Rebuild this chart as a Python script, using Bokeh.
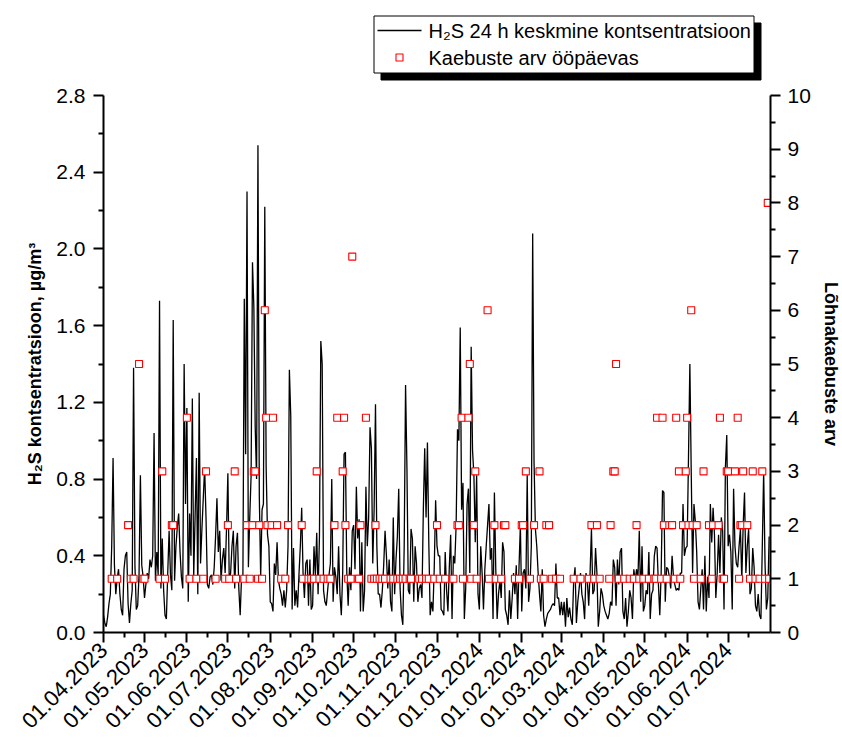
import math
import pandas as pd
from bokeh.plotting import figure
from bokeh.layouts import column
from bokeh.core.properties import value
from bokeh.models import (Range1d, LinearAxis, FixedTicker, DatetimeTickFormatter,
                          PrintfTickFormatter)
from bokeh.embed import file_html
from bokeh.resources import INLINE

# ---------------- data ----------------
start_date = "2023-04-01"
end_date = "2024-08-01"

# daily 24 h mean H2S concentration (µg/m3), starting 01.04.2023
h2s = [
    0.09, 0.05, 0.03, 0.08, 0.15, 0.20, 0.45, 0.91, 0.35, 0.20,
    0.28, 0.33, 0.20, 0.12, 0.09, 0.33, 0.40, 0.42, 0.15, 0.05,
    0.15, 0.22, 1.38, 0.35, 0.12, 0.14, 0.30, 0.82, 0.35, 0.29,
    0.18, 0.25, 0.31, 0.28, 0.38, 0.34, 0.40, 1.04, 0.27, 0.42,
    0.30, 1.73, 0.23, 0.49, 0.22, 0.09, 0.07, 0.31, 0.53, 0.30,
    0.22, 1.63, 0.27, 0.45, 0.55, 0.62, 0.42, 0.29, 0.23, 1.40,
    0.67, 1.17, 0.16, 0.62, 0.40, 1.22, 0.29, 0.60, 0.91, 0.20,
    1.25, 0.36, 0.54, 0.70, 0.86, 0.60, 0.25, 0.23, 0.29, 0.30,
    0.25, 0.34, 0.50, 0.70, 0.42, 0.53, 0.27, 0.38, 0.44, 0.31,
    0.54, 0.83, 0.27, 0.31, 0.45, 0.53, 0.23, 0.45, 0.52, 0.23,
    0.09, 0.29, 0.30, 1.74, 0.93, 2.30, 0.34, 0.60, 0.82, 1.93,
    1.70, 1.07, 0.80, 2.54, 0.71, 0.29, 0.64, 0.67, 2.22, 0.86,
    0.51, 0.45, 0.16, 0.15, 0.11, 0.36, 0.30, 0.47, 0.27, 0.23,
    0.20, 0.14, 0.22, 0.13, 0.22, 0.45, 1.37, 1.13, 0.12, 0.44,
    0.14, 0.22, 0.13, 0.30, 0.45, 0.65, 0.31, 0.18, 0.36, 0.38,
    0.14, 0.38, 0.12, 0.14, 0.45, 0.30, 0.52, 0.20, 0.50, 1.52,
    1.40, 0.22, 0.16, 0.14, 0.22, 0.30, 0.36, 0.80, 0.16, 0.34,
    0.29, 0.20, 0.45, 0.20, 0.09, 0.31, 0.93, 0.94, 0.31, 0.14,
    0.34, 0.22, 0.53, 0.56, 0.33, 0.76, 0.49, 0.59, 0.11, 0.47,
    0.11, 0.22, 0.76, 0.45, 0.60, 1.07, 0.96, 0.36, 0.64, 1.19,
    0.45, 0.20, 0.20, 0.13, 0.22, 0.35, 0.53, 0.40, 0.23, 0.38,
    0.16, 0.11, 0.60, 0.20, 0.38, 0.50, 0.75, 0.23, 0.09, 0.04,
    0.45, 1.29, 0.86, 0.22, 0.20, 0.54, 0.49, 0.16, 0.45, 0.36,
    0.16, 0.23, 0.25, 0.18, 0.64, 0.96, 0.60, 0.99, 0.47, 0.09,
    0.16, 0.11, 0.34, 0.69, 0.45, 0.40, 0.40, 0.12, 0.11, 0.09,
    0.42, 0.22, 0.11, 0.34, 0.51, 0.07, 0.40, 0.36, 0.56, 1.06,
    1.00, 1.59, 0.64, 0.78, 0.07, 0.23, 0.67, 0.75, 0.31, 1.49,
    0.95, 0.82, 0.47, 0.82, 0.20, 0.12, 0.45, 0.31, 0.12, 0.33,
    0.45, 0.56, 0.67, 0.38, 0.44, 0.07, 0.73, 0.33, 0.07, 0.20,
    0.27, 0.18, 0.47, 0.42, 0.12, 0.09, 0.04, 0.22, 0.07, 0.18,
    0.31, 0.20, 0.35, 0.07, 0.34, 0.56, 0.11, 0.31, 0.33, 0.23,
    0.82, 0.16, 0.23, 0.45, 2.08, 0.89, 0.54, 0.45, 0.31, 0.20,
    0.11, 0.33, 0.09, 0.03, 0.07, 0.10, 0.11, 0.12, 0.14, 0.15,
    0.14, 0.36, 0.18, 0.18, 0.09, 0.16, 0.09, 0.16, 0.03, 0.18,
    0.08, 0.13, 0.07, 0.04, 0.27, 0.34, 0.05, 0.16, 0.23, 0.31,
    0.20, 0.16, 0.07, 0.31, 0.27, 0.14, 0.31, 0.54, 0.20, 0.22,
    0.44, 0.31, 0.03, 0.11, 0.23, 0.20, 0.14, 0.11, 0.09, 0.07,
    0.10, 0.16, 0.14, 0.38, 0.34, 0.14, 0.38, 0.25, 0.42, 0.44,
    0.11, 0.07, 0.18, 0.03, 0.11, 0.22, 0.18, 0.07, 0.33, 0.27,
    0.33, 0.28, 0.53, 0.16, 0.45, 0.11, 0.14, 0.22, 0.20, 0.42,
    0.07, 0.20, 0.22, 0.40, 0.45, 0.44, 0.25, 0.09, 0.31, 0.74,
    0.73, 0.16, 0.34, 0.33, 0.29, 0.23, 0.40, 0.29, 0.25, 0.22,
    0.23, 0.22, 0.31, 0.31, 0.67, 0.40, 0.44, 0.45, 0.91, 1.40,
    0.84, 0.31, 0.67, 0.58, 0.42, 0.16, 0.12, 0.23, 0.33, 0.12,
    0.40, 0.11, 0.29, 0.18, 0.67, 0.47, 0.65, 0.51, 0.18, 0.31,
    0.51, 0.31, 0.60, 0.53, 0.12, 0.86, 1.03, 0.45, 0.51, 0.42,
    0.12, 0.75, 0.45, 0.36, 0.34, 0.45, 0.54, 0.27, 0.56, 0.73,
    0.31, 0.45, 0.54, 0.20, 0.23, 0.44, 0.34, 0.14, 0.11, 0.20,
    0.09, 0.07, 0.45, 0.84, 0.36, 0.12, 0.18, 0.50,
]

# complaints per day: day number counted from 01.04.2023, and count
complaint_day = [
    6, 10, 18, 20, 22, 26, 29, 30, 41, 43, 45, 50, 51, 61, 63, 68,
    73, 75, 82, 89, 91, 92, 96, 97, 103, 105, 107, 109, 110, 111, 113, 114,
    116, 118, 119, 120, 123, 124, 127, 130, 133, 135, 145, 146, 150,
    152, 154, 156, 158, 161, 164, 166, 169, 171, 175, 176, 177, 179, 181, 182,
    186, 187, 188, 192, 196, 198, 199, 200, 202, 204, 206, 210, 212, 215, 217,
    219, 221, 224, 225, 231, 233,
    236, 238, 242, 244, 246, 250, 256, 259, 260, 262, 263, 267, 268, 269, 271,
    272, 273, 281, 282, 286, 287, 291, 293, 294, 301, 304, 306, 307, 309, 312, 315,
    319, 320, 322, 324, 326, 328, 331, 334, 344, 349, 355, 357, 359, 361, 363,
    370, 371, 373, 374, 375, 377, 381, 385, 388, 390, 392, 395, 399,
    403, 404, 405, 408, 409, 410, 412, 414, 416, 418, 419, 421, 422, 424, 426,
    427, 428, 430, 431, 432, 434, 437, 439, 443, 445, 446, 450, 451, 453, 454,
    456, 457, 462, 464, 465, 466, 467, 468, 471, 473, 475, 477, 480, 482, 484,
    486, 487,
]
complaint_count = [
    1, 1, 2, 1, 1, 5, 1, 1, 1, 3, 1, 2, 2, 4, 1, 1,
    1, 3, 1, 1, 2, 1, 3, 1, 1, 2, 1, 2, 3, 3, 1, 2,
    1, 6, 4, 2, 2, 4, 2, 1, 1, 2, 2, 1, 1,
    1, 1, 3, 1, 1, 1, 1, 2, 4, 3, 4, 2, 1, 1, 7,
    1, 1, 2, 4, 1, 1, 2, 1, 1, 1, 1, 1, 1, 1, 1,
    1, 1, 1, 1, 1, 1,
    1, 1, 1, 2, 1, 1, 1, 2, 2, 4, 1, 4, 5, 1, 2,
    3, 1, 6, 1, 2, 1, 1, 2, 2, 1, 1, 2, 2, 3, 1, 2,
    3, 1, 1, 2, 2, 1, 1, 1, 1, 1, 1, 2, 1, 2, 1,
    1, 2, 3, 3, 5, 1, 1, 1, 1, 2, 1, 1, 1,
    1, 1, 4, 1, 4, 2, 1, 2, 2, 1, 4, 3, 1, 2, 3,
    4, 2, 6, 2, 1, 2, 1, 3, 2, 1, 2, 2, 4, 1, 1,
    3, 3, 3, 4, 1, 2, 2, 3, 2, 1, 3, 1, 1, 3, 1,
    8, 1,
]

month_ticks = [
    "2023-04-01", "2023-05-01", "2023-06-01", "2023-07-01", "2023-08-01",
    "2023-09-01", "2023-10-01", "2023-11-01", "2023-12-01", "2024-01-01",
    "2024-02-01", "2024-03-01", "2024-04-01", "2024-05-01", "2024-06-01",
    "2024-07-01",
]
left_ticks = [0.0, 0.4, 0.8, 1.2, 1.6, 2.0, 2.4, 2.8]
left_minor = [0.2, 0.6, 1.0, 1.4, 1.8, 2.2, 2.6]
right_ticks = [0, 1, 2, 3, 4, 5, 6, 7, 8, 9, 10]
right_minor = [0.5, 1.5, 2.5, 3.5, 4.5, 5.5, 6.5, 7.5, 8.5, 9.5]

legend_labels = ["H\u2082S 24 h keskmine kontsentratsioon", "Kaebuste arv ööpäevas"]
left_title = "H\u2082S kontsentratsioon, µg/m\u00b3"
right_title = "Lõhnakaebuste arv"

assert len(complaint_day) == len(complaint_count)

FONT = "Liberation Sans"
LINE_W = 1.3
SQ_SIZE = 7
BORDER_L, FRAME_W, BORDER_R = 103, 667, 72
LEG_H = 82

# ---------------- main figure ----------------
dates = pd.date_range(start_date, periods=len(h2s), freq="D")
c_dates = dates[complaint_day]


def ms(s):
    return pd.Timestamp(s).value // 10**6


major_ms = [ms(s) for s in month_ticks]
minor_ms = [ms(pd.Timestamp(s) + pd.Timedelta(days=15)) for s in month_ticks]

p = figure(frame_width=FRAME_W, frame_height=537,
           x_axis_type="datetime",
           x_range=Range1d(pd.Timestamp(start_date), pd.Timestamp(end_date)),
           y_range=Range1d(0, 2.8),
           output_backend="svg", toolbar_location=None,
           min_border_left=BORDER_L, min_border_right=BORDER_R,
           min_border_top=95 - LEG_H, min_border_bottom=108,
           background_fill_color="white", border_fill_color="white")
p.outline_line_color = None
p.xgrid.visible = False
p.ygrid.visible = False

p.extra_y_ranges = {"cnt": Range1d(0, 10)}
right_axis = LinearAxis(y_range_name="cnt", axis_label=right_title)
p.add_layout(right_axis, "right")

p.line(dates, h2s, line_color="black", line_width=LINE_W)
p.scatter(c_dates, complaint_count, marker="square", size=SQ_SIZE,
          line_color="red", fill_color="white", line_width=1.1,
          y_range_name="cnt")

for ax in [p.xaxis[0], p.yaxis[0], right_axis]:
    ax.axis_line_width = 2
    ax.axis_line_color = "black"
    ax.major_tick_line_width = 2
    ax.minor_tick_line_width = 2
    ax.major_tick_line_color = "black"
    ax.minor_tick_line_color = "black"
    ax.major_tick_in = 0
    ax.major_tick_out = 10
    ax.minor_tick_in = 0
    ax.minor_tick_out = 5
    ax.major_label_text_font = FONT
    ax.major_label_text_font_size = "21px"
    ax.major_label_text_color = "black"
    ax.major_label_standoff = 8
    ax.axis_label_text_font = FONT
    ax.axis_label_text_font_size = "18px"
    ax.axis_label_text_font_style = "bold"
    ax.axis_label_text_color = "black"

xa = p.xaxis[0]
xa.ticker = FixedTicker(ticks=major_ms, minor_ticks=minor_ms)
xa.formatter = DatetimeTickFormatter(days="%d.%m.%Y", months="%d.%m.%Y",
                                     years="%d.%m.%Y")
xa.major_label_orientation = math.pi / 4
xa.major_label_text_font_size = "22px"
xa.major_label_standoff = 4

ya = p.yaxis[0]
ya.ticker = FixedTicker(ticks=left_ticks, minor_ticks=left_minor)
ya.formatter = PrintfTickFormatter(format="%.1f")
ya.axis_label = left_title
ya.axis_label_standoff = 8

right_axis.ticker = FixedTicker(ticks=right_ticks, minor_ticks=right_minor)
right_axis.major_label_standoff = 7
right_axis.axis_label_standoff = 7

# ---------------- legend strip above the plot ----------------
# its frame is aligned with the main frame; ranges are in page pixels
lf = figure(frame_width=FRAME_W, frame_height=LEG_H,
            x_range=Range1d(BORDER_L, BORDER_L + FRAME_W), y_range=Range1d(LEG_H, 0),
            x_axis_location=None, y_axis_location=None,
            output_backend="svg", toolbar_location=None,
            min_border_left=BORDER_L, min_border_right=BORDER_R,
            min_border_top=0, min_border_bottom=0,
            background_fill_color="white", border_fill_color="white")
lf.outline_line_color = None
lf.xgrid.visible = False
lf.ygrid.visible = False

BOX_L, BOX_R, BOX_T, BOX_B = 373.5, 753.5, 15.5, 72.5
SHADOW = 7
lf.quad(left=[BOX_L + SHADOW], right=[BOX_R + SHADOW], top=[BOX_T + SHADOW],
        bottom=[BOX_B + SHADOW], fill_color="black", line_color="black")
lf.quad(left=[BOX_L], right=[BOX_R], top=[BOX_T], bottom=[BOX_B],
        fill_color="white", line_color="black", line_width=1)
ROW1, ROW2 = 30, 57
lf.segment(x0=[377], y0=[ROW1], x1=[421], y1=[ROW1], line_color="black",
           line_width=LINE_W)
lf.scatter(x=[399], y=[ROW2], marker="square", size=SQ_SIZE,
           line_color="red", fill_color="white", line_width=1.1)
lf.text(x=[428, 428], y=[ROW1, ROW2], text=legend_labels,
        text_font=value(FONT), text_font_size="20px", text_color="black",
        text_baseline="middle", text_align="left")

layout = column(lf, p, spacing=0)
open("out.html", "w").write(file_html(layout, INLINE))
